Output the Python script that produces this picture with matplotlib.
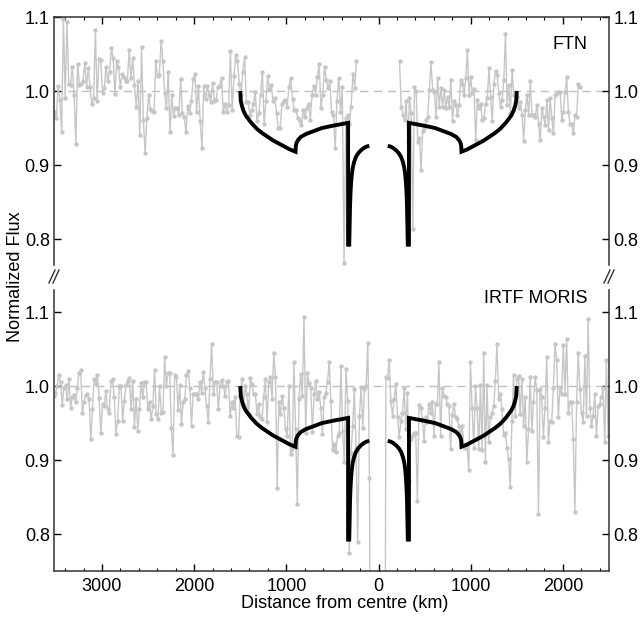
import numpy as np
import matplotlib
matplotlib.use("Agg")
import matplotlib.pyplot as plt
from matplotlib.lines import Line2D
from matplotlib.ticker import MultipleLocator, FuncFormatter

plt.rcParams['font.family'] = ['Liberation Sans', 'DejaVu Sans']
plt.rcParams['font.size'] = 13

# FTN light curve (normalized flux), two chords separated by the gap near the centre
ftn_left_x = (-3514, -239)
ftn_left = [
    0.972, 0.963, 1.007, 0.988, 0.944, 1.097, 0.991, 1.093, 1.009, 1.008, 1.033, 0.995, 0.929, 1.037,
    1.008, 1.010, 1.013, 1.038, 1.006, 1.031, 1.005, 0.982, 0.990, 1.083, 0.986, 1.043, 1.042, 0.998,
    1.004, 1.033, 1.013, 1.026, 1.058, 1.044, 0.996, 1.041, 1.032, 1.005, 1.023, 1.019, 1.013, 1.013,
    1.056, 1.018, 1.044, 1.008, 0.978, 1.014, 0.941, 1.059, 0.961, 0.916, 0.964, 0.995, 0.976, 0.973,
    0.972, 1.040, 1.020, 1.022, 1.068, 1.040, 0.998, 0.977, 1.026, 0.944, 0.994, 0.966, 0.977, 0.977,
    0.967, 1.016, 0.970, 0.965, 0.944, 0.980, 0.970, 0.986, 1.016, 1.023, 0.972, 1.007, 0.960, 0.923,
    1.007, 0.989, 1.007, 0.995, 0.985, 1.011, 0.986, 0.988, 1.006, 1.007, 1.018, 0.971, 0.983, 0.971,
    0.981, 1.054, 0.974, 1.020, 1.049, 1.040,
    1.010, 0.995, 1.026, 1.046, 0.985, 0.985, 0.968, 0.974, 0.983, 0.999, 0.959, 0.970, 0.995, 1.026,
    0.956, 0.986, 1.020, 1.003, 1.008, 0.986, 0.990, 0.970, 0.950, 0.950, 0.983, 0.986, 0.988, 0.979,
    1.006, 1.018, 0.989, 0.974, 0.975, 0.963, 0.959, 0.954, 0.974, 0.965, 0.977, 0.983, 0.961, 0.995,
    1.007, 0.995, 1.019, 1.036, 0.977, 0.995, 1.033, 1.015, 1.004, 1.013, 0.972, 0.968, 0.923, 0.986,
    1.018, 0.972, 1.006, 0.768, 0.963, 0.968, 0.956, 0.979, 1.023, 1.004, 1.041,
]
ftn_right_x = (228, 2185)
ftn_right = [
    1.040, 0.979, 0.968, 0.961, 0.987, 0.931, 0.991, 0.970, 0.814, 1.006, 1.000, 0.931, 0.937, 0.893,
    0.946, 0.950, 0.961, 0.965, 1.002, 1.039, 1.002,
    0.999, 0.965, 1.017, 0.979, 1.004, 0.979, 1.002, 0.977, 0.992, 0.979, 1.015, 0.959, 0.986, 0.981,
    0.968, 0.981, 1.015, 1.010, 0.995, 1.017, 1.056, 0.995, 1.019, 0.997, 1.003, 0.934, 0.988, 0.977,
    0.983, 0.961, 0.963, 0.983, 0.990, 1.031, 0.992, 0.959, 1.010, 1.027, 1.022, 0.997, 0.979, 0.988,
    1.015, 1.077, 0.981, 1.008, 0.970, 1.028, 0.995, 0.995, 0.992, 0.977, 0.985, 0.968, 0.932, 0.974,
    0.995, 0.968, 1.013, 0.968, 0.968, 0.965, 0.981, 0.956, 0.934, 0.977, 0.965, 0.954, 0.988, 0.947,
    0.990, 0.963, 0.943, 0.995, 0.997, 0.999, 0.999, 0.961, 0.972, 0.999, 1.019, 0.972, 0.956, 0.956,
    0.943, 0.968, 0.965, 1.010, 1.006,
]

# IRTF MORIS light curve
irtf_left_x = (-3522, -98)
irtf_left = [
    0.987, 0.991, 1.000, 1.015, 1.006, 0.974, 0.998, 1.001, 0.983, 1.009, 0.971, 0.985, 0.988, 0.978,
    0.997, 1.018, 1.022, 0.964, 0.978, 0.988, 0.989, 0.982, 0.928, 0.969, 1.010, 1.003, 1.015, 0.984,
    0.936, 0.976, 0.973, 0.994, 0.969, 0.964, 1.007, 1.009, 0.985, 0.935, 0.953, 1.000, 1.000, 0.953,
    0.980, 1.001, 1.007, 1.011, 0.969, 1.007, 0.945, 0.983, 0.940, 0.969, 1.004, 0.985, 1.005, 1.006,
    0.969, 0.979, 0.955, 0.973, 1.022, 0.962, 0.955, 1.000, 0.964, 0.965, 1.039, 1.000, 1.018, 1.018,
    0.944, 0.907, 1.015, 1.013, 0.968, 1.001, 0.949, 0.978, 0.983, 1.015, 1.021, 0.998, 0.946, 0.990,
    0.990, 0.990, 0.982, 1.006, 0.991, 1.019, 0.998, 0.973, 0.951, 1.010, 1.057, 0.989, 1.006, 1.005,
    0.969, 1.000, 1.008, 1.000, 0.987, 1.005, 1.007, 0.959, 0.979, 0.971, 0.985, 0.933, 0.931, 0.987,
    1.009,
    0.974, 1.000, 0.989, 0.962, 1.011, 1.003, 0.989, 0.990, 0.962, 0.976, 0.958, 0.955, 0.985, 1.009,
    0.951, 1.006, 1.013, 0.983, 1.045, 1.012, 0.862, 0.978, 0.962, 0.987, 0.971, 0.942, 0.933, 1.000,
    0.908, 0.915, 1.033, 0.942, 0.840, 0.982, 1.016, 0.987, 1.094, 0.936, 1.018, 1.004, 0.998, 0.938,
    0.989, 1.007, 0.982, 0.992, 0.971, 0.935, 0.985, 0.991, 1.006, 1.032, 0.980, 0.913, 0.922, 0.911,
    0.933, 0.937, 1.027, 0.940, 0.897, 1.023, 0.980, 0.774, 0.910, 0.946, 0.996, 0.915, 0.789, 0.960,
    0.999, 0.944, 0.996, 1.000, 1.059, 0.876,
]
irtf_mid_x = (-75, 60)
irtf_mid = [0.05, 0.02, 0.00, 0.01, 0.03, 0.06, 0.04]
irtf_right_x = (80, 2490)
irtf_right = [
    1.013, 1.011, 1.036, 0.980, 0.960, 0.982, 1.003, 0.958, 0.931, 0.953, 0.964, 0.997, 0.942, 0.991,
    0.872, 0.928, 0.933, 0.937, 0.937, 0.844, 0.974, 0.970, 0.955, 0.926, 0.958, 0.951, 0.976, 0.964,
    0.978,
    0.933, 0.976, 0.976, 1.032, 0.933, 0.997, 0.987, 0.985, 0.976, 0.973, 0.915, 0.961, 0.976, 0.958,
    0.955, 0.946, 0.933, 0.946, 0.919, 0.917, 0.919, 0.886, 1.032, 0.971, 0.917, 1.000, 0.971, 0.915,
    1.001, 0.913, 1.045, 0.897, 1.001, 0.924, 0.958, 0.964, 0.973, 1.007, 1.057, 0.982, 0.989, 0.969,
    0.934, 0.937, 0.917, 0.901, 0.863, 0.953, 1.015, 0.960, 1.009, 1.014, 0.962, 1.010, 0.946, 0.985,
    0.897, 0.942, 1.012, 0.940, 0.978, 1.012, 0.995, 0.827, 0.996, 0.985, 0.931, 0.971, 1.039, 0.924,
    0.953, 0.951, 0.998, 1.057, 1.036, 0.958, 0.998, 0.989, 1.055, 0.989, 1.064, 0.964, 0.978, 0.978,
    0.928, 0.830, 0.978, 1.045, 0.996, 0.964, 0.951, 1.041, 0.959, 1.091, 0.971, 0.946, 0.960, 0.989,
    0.933, 0.973, 0.976, 0.985, 0.997, 0.924, 1.036, 0.933,
]

# model profile, one half (distance from centre, flux)
outer_r = [1500, 1494, 1482, 1464, 1440, 1380, 1320, 1260, 1200, 1140, 1080, 1020, 960, 900,
           897, 889, 872, 843, 786, 700, 615, 501, 416, 330, 330]
outer_f = [1.000, 0.987, 0.980, 0.973, 0.967, 0.957, 0.949, 0.943, 0.938, 0.933, 0.929, 0.925, 0.921, 0.918,
           0.926, 0.930, 0.934, 0.938, 0.942, 0.946, 0.950, 0.953, 0.955, 0.957, 0.790]
inner_r = [100, 130, 160, 190, 220, 245, 265, 280, 290, 298, 304, 309, 313, 318]
inner_f = [0.926, 0.925, 0.923, 0.920, 0.916, 0.911, 0.904, 0.896, 0.887, 0.875, 0.862, 0.845, 0.820, 0.790]

grey = '#c6c6c6'
fig = plt.figure(figsize=(6.42, 6.17), dpi=100)
W, H = 642, 617
ax_top = fig.add_axes([54 / W, 1 - 265 / H, 555 / W, 248 / H])
ax_bot = fig.add_axes([54 / W, 1 - 571 / H, 555 / W, 281 / H])


def seg(xr, vals):
    return np.linspace(xr[0], xr[1], len(vals)), np.array(vals)


def draw_model(ax):
    r_o, f_o = np.array(outer_r), np.array(outer_f)
    r_i, f_i = np.array(inner_r), np.array(inner_f)
    for s in (-1, 1):
        ax.plot(s * r_o, f_o, color='black', lw=2.8, solid_joinstyle='miter',
                solid_capstyle='butt', zorder=4)
        ax.plot(s * r_i, f_i, color='black', lw=2.8, solid_capstyle='butt', zorder=4)


def data_line(ax, x, y):
    ax.plot(x, y, '-o', color=grey, lw=1.0, ms=3.2, mec='none', zorder=2)


# top panel: FTN
data_line(ax_top, *seg(ftn_left_x, ftn_left))
data_line(ax_top, *seg(ftn_right_x, ftn_right))
draw_model(ax_top)
ax_top.text(0.962, 0.89, 'FTN', transform=ax_top.transAxes, ha='right', va='center')

# bottom panel: IRTF MORIS
xl, yl = seg(irtf_left_x, irtf_left)
xm, ym = seg(irtf_mid_x, irtf_mid)
xr, yr = seg(irtf_right_x, irtf_right)
data_line(ax_bot, np.concatenate([xl, xm, xr]), np.concatenate([yl, ym, yr]))
draw_model(ax_bot)
ax_bot.text(0.962, 0.968, 'IRTF MORIS', transform=ax_bot.transAxes, ha='right', va='center')

ax_top.set_ylim(0.765, 1.1)
ax_bot.set_ylim(0.75, 1.13)
for ax in (ax_top, ax_bot):
    ax.set_xlim(-3520, 2500)
    ax.axhline(1.0, color='#bdbdbd', lw=1.0, dashes=(6, 4), zorder=1)
    ax.set_yticks([0.8, 0.9, 1.0, 1.1])
    ax.yaxis.set_major_formatter(FuncFormatter(lambda v, p: f'{v:.1f}'))
    ax.xaxis.set_major_locator(MultipleLocator(1000))
    ax.xaxis.set_minor_locator(MultipleLocator(200))
    ax.xaxis.set_major_formatter(FuncFormatter(lambda v, p: f'{abs(v):.0f}'))
    ax.tick_params(axis='y', which='both', direction='in', left=True, right=True,
                   labelleft=True, labelright=True, length=5, width=1, pad=3, labelsize=13)
    for sp in ax.spines.values():
        sp.set_color('#333333')
        sp.set_linewidth(1.1)

ax_top.spines['bottom'].set_visible(False)
ax_top.tick_params(axis='x', which='both', direction='in', top=True, bottom=False, labelbottom=False)
ax_top.tick_params(axis='x', which='major', length=5, width=1)
ax_top.tick_params(axis='x', which='minor', length=2.5, width=0.8)
ax_bot.spines['top'].set_visible(False)
ax_bot.tick_params(axis='x', which='both', direction='in', top=False, bottom=True, labelsize=13, pad=5)
ax_bot.tick_params(axis='x', which='major', length=5, width=1)
ax_bot.tick_params(axis='x', which='minor', length=2.5, width=0.8)

# axis break marks
for xc in (54, 609):
    for dx in (-2, 2):
        fig.add_artist(Line2D([(xc + dx - 3) / W, (xc + dx + 3) / W],
                              [1 - 283 / H, 1 - 270 / H], color='#333333', lw=1.0))

fig.text(345 / W, 1 - 603 / H, 'Distance from centre (km)', ha='center', va='center')
fig.text(16 / W, 1 - 277 / H, 'Normalized Flux', ha='center', va='center', rotation=90)

fig.savefig('out.png', dpi=100)
